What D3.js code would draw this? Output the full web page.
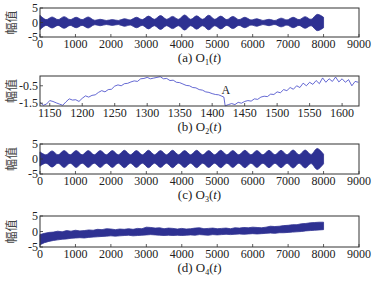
<!DOCTYPE html>
<html>
<head>
<meta charset="utf-8">
<script src="https://cdn.jsdelivr.net/npm/d3@7"></script>
<style>
  body { margin: 0; background: #fff; }
  svg { display: block; }
</style>
</head>
<body>
<svg id="chart" width="382" height="293"></svg>
<script>
// ---- data ----
const fullTicks = [0, 1000, 2000, 3000, 4000, 5000, 6000, 7000, 8000, 9000];
const ampTicks = [5, 0, -5];

// envelope sample positions for O1 and O3 (peaks / troughs of the beats)
const envX = [0,170,340,510,680,850,1020,1190,1360,1530,1700,1870,2040,2210,2380,2550,
  2720,2890,3060,3230,3400,3570,3740,3910,4080,4250,4420,4590,4760,4930,5100,5270,
  5440,5610,5780,5950,6120,6290,6460,6630,6800,6970,7140,7310,7480,7650,7820,8000];
const o1Amp = [2.5,1.0, 1.9,1.0, 2.0,1.0, 1.8,1.0, 1.9,0.8, 1.1,0.7, 1.0,0.7, 1.3,0.9,
  1.8,1.0, 2.2,1.1, 2.4,1.1, 2.1,1.1, 2.6,1.1, 2.3,1.1, 2.5,1.1, 2.2,1.0,
  2.1,1.0, 1.8,0.9, 1.3,0.7, 1.1,0.7, 1.5,0.9, 1.8,1.0, 2.0,1.1, 2.8,1.8];
const o3Amp = [2.4,1.4, 2.7,1.4, 2.8,1.4, 2.8,1.4, 2.8,1.4, 2.8,1.4, 2.8,1.4, 2.9,1.4,
  2.8,1.4, 2.9,1.4, 2.8,1.4, 2.9,1.4, 2.8,1.4, 2.9,1.4, 2.8,1.4, 2.9,1.4,
  2.8,1.4, 2.9,1.4, 2.8,1.4, 2.9,1.4, 2.9,1.4, 3.0,1.4, 3.0,1.5, 3.5,1.6];

// O2 zoomed segment
const o2X = [1135,1140,1145,1150,1155,1160,1165,1170,1175,1180,1185,1190,1195,1200,1205,1210,
  1215,1220,1225,1230,1235,1240,1245,1250,1255,1260,1265,1270,1275,1280,1285,1290,1295,1300,
  1305,1310,1315,1320,1325,1330,1335,1340,1345,1350,1355,1360,1365,1370,1375,1380,1385,1390,
  1395,1400,1405,1410,1415,1418,1420,1425,1430,1435,1440,1445,1450,1455,1460,1465,1470,1475,
  1480,1485,1490,1495,1500,1505,1510,1515,1520,1525,1530,1535,1540,1545,1550,1555,1560,1565,
  1570,1575,1580,1585,1590,1595,1600,1605,1610,1615,1620,1625];
const o2Y = [-1.45,-1.62,-1.55,-1.35,-1.4,-1.48,-1.55,-1.62,-1.42,-1.25,-1.32,-1.3,-1.4,-1.22,-1.08,-1.15,
  -1.05,-1.02,-0.88,-0.78,-0.85,-0.72,-0.7,-0.52,-0.45,-0.5,-0.38,-0.36,-0.28,-0.22,-0.25,-0.1,-0.08,-0.02,
  -0.1,-0.06,-0.02,0.02,-0.1,-0.08,-0.2,-0.18,-0.3,-0.32,-0.4,-0.48,-0.5,-0.6,-0.62,-0.72,-0.75,-0.85,
  -0.88,-0.95,-1.0,-1.02,-1.1,-1.15,-1.65,-1.58,-1.52,-1.58,-1.45,-1.5,-1.4,-1.35,-1.38,-1.25,-1.28,-1.15,
  -1.1,-1.12,-0.98,-1.0,-0.85,-0.9,-0.72,-0.78,-0.6,-0.7,-0.5,-0.6,-0.35,-0.5,-0.3,-0.42,-0.2,-0.38,
  -0.05,-0.3,-0.1,-0.25,0.0,-0.28,-0.1,-0.3,-0.15,-0.5,-0.25,-0.3];
const o2XTicks = [1150,1200,1250,1300,1350,1400,1450,1500,1550,1600];
const o2YTicks = [-0.5, -1.5];

// O4 trending band, upper and lower edges
const o4X = [0,125,250,375,500,625,750,875,1000,1125,1250,1375,1500,1625,1750,1875,2000,
  2125,2250,2375,2500,2625,2750,2875,3000,3125,3250,3375,3500,3625,3750,3875,4000,
  4125,4250,4375,4500,4625,4750,4875,5000,5125,5250,5375,5500,5625,5750,5875,6000,
  6125,6250,6375,6500,6625,6750,6875,7000,7125,7250,7375,7500,7625,7750,7875,8000];
const o4Upper = [-1.0,-0.6,-0.3,-0.2,0.1,-0.1,0.3,0.1,0.4,0.2,0.3,0.5,0.4,0.7,0.6,0.9,0.8,
  0.6,0.8,0.7,0.9,0.7,1.0,0.9,1.4,1.3,1.1,1.2,0.9,1.1,1.0,0.8,1.0,
  0.8,0.9,1.1,1.2,0.9,1.0,1.1,0.9,1.0,1.1,0.9,1.2,1.1,1.3,1.2,1.4,
  1.3,1.2,1.4,1.7,1.6,1.7,1.9,2.0,2.2,2.2,2.5,2.6,2.8,2.9,3.0,3.0];
const o4Lower = [-4.3,-3.6,-3.2,-2.9,-2.7,-2.5,-2.4,-2.2,-2.1,-2.0,-2.1,-1.9,-1.8,-1.7,-1.6,-1.5,-1.4,
  -1.5,-1.4,-1.3,-1.2,-1.4,-1.3,-1.2,-1.1,-1.0,-1.1,-1.2,-1.3,-1.2,-1.3,-1.2,-1.3,
  -1.2,-1.1,-1.2,-1.0,-1.1,-1.2,-1.0,-1.1,-1.0,-0.9,-1.0,-0.9,-0.8,-0.9,-0.8,-0.7,
  -0.8,-0.7,-0.6,-0.5,-0.6,-0.4,-0.4,-0.3,-0.2,-0.1,0.0,0.2,0.3,0.4,0.5,0.6];

const captions = [["(a) O", "1"], ["(b) O", "2"], ["(c) O", "3"], ["(d) O", "4"]];

// ---- layout ----
const left = 40, right = 359;
const panels = [
  { top: 8,   bottom: 37 },
  { top: 76,  bottom: 106 },
  { top: 144, bottom: 174 },
  { top: 216, bottom: 247 }
];
const bandColor = "#2e3192";
const lineColor = "#3d42c8";
const serif = "'Liberation Serif', 'Times New Roman', serif";

const svg = d3.select("#chart");

function drawFrame(p, x, y, xTicks, yTicks, cap) {
  const g = svg.append("g");
  // ticks inside the box, like the source plot
  g.selectAll(".xt").data(xTicks).enter().append("line")
    .attr("x1", d => x(d)).attr("x2", d => x(d))
    .attr("y1", p.bottom).attr("y2", p.bottom - 3)
    .attr("stroke", "#333").attr("stroke-width", 0.8);
  g.selectAll(".yt").data(yTicks).enter().append("line")
    .attr("x1", left).attr("x2", left + 3)
    .attr("y1", d => y(d)).attr("y2", d => y(d))
    .attr("stroke", "#333").attr("stroke-width", 0.8);
  g.append("rect")
    .attr("x", left).attr("y", p.top)
    .attr("width", right - left).attr("height", p.bottom - p.top)
    .attr("fill", "none").attr("stroke", "#333").attr("stroke-width", 1);

  g.selectAll(".xl").data(xTicks).enter().append("text")
    .attr("x", d => x(d)).attr("y", p.bottom + 11)
    .attr("text-anchor", "middle")
    .style("font", `12px ${serif}`).attr("fill", "#222")
    .text(d => d);
  g.selectAll(".yl").data(yTicks).enter().append("text")
    .attr("x", left - 2).attr("y", d => y(d)).attr("dy", "0.35em")
    .attr("text-anchor", "end")
    .style("font", `12px ${serif}`).attr("fill", "#222")
    .text(d => d);

  // y title
  const cy = (p.top + p.bottom) / 2;
  g.append("text")
    .attr("transform", `translate(16,${cy}) rotate(-90)`)
    .attr("text-anchor", "middle")
    .style("font", "12px 'Noto Sans CJK SC', sans-serif").attr("fill", "#444")
    .text("幅值");

  // caption with subscript and italic t
  const t = g.append("text")
    .attr("x", (left + right) / 2).attr("y", p.bottom + 25)
    .attr("text-anchor", "middle")
    .style("font", `13px ${serif}`).attr("fill", "#222");
  t.append("tspan").text(cap[0]);
  t.append("tspan").attr("dy", 3).style("font-size", "8px").text(cap[1]);
  t.append("tspan").attr("dy", -3).text("(");
  t.append("tspan").style("font-style", "italic").text("t");
  t.append("tspan").text(")");
}

// ---- panels a and c: beating bands ----
function drawBand(p, amp, cap) {
  const x = d3.scaleLinear().domain([0, 9000]).range([left, right]);
  const y = d3.scaleLinear().domain([-5, 5]).range([p.bottom, p.top]);
  const pts = envX.map((d, i) => ({ x: d, a: amp[i] }));
  const area = d3.area()
    .x(d => x(d.x)).y0(d => y(-d.a)).y1(d => y(d.a))
    .curve(d3.curveCardinal);
  svg.append("path").attr("d", area(pts))
    .attr("fill", bandColor).attr("stroke", bandColor).attr("stroke-width", 0.8);
  drawFrame(p, x, y, fullTicks, ampTicks, cap);
}

drawBand(panels[0], o1Amp, captions[0]);
drawBand(panels[2], o3Amp, captions[2]);

// ---- panel b: zoomed line ----
{
  const p = panels[1];
  const x = d3.scaleLinear().domain([1135, 1626]).range([left, right]);
  const y = d3.scaleLinear().domain([-1.66, 0.06]).range([p.bottom, p.top]);
  const line = d3.line().x((d, i) => x(o2X[i])).y(d => y(d));
  svg.append("path").attr("d", line(o2Y))
    .attr("fill", "none").attr("stroke", lineColor).attr("stroke-width", 0.8);
  drawFrame(p, x, y, o2XTicks, o2YTicks, captions[1]);
  svg.append("text")
    .attr("x", x(1421)).attr("y", y(-0.95))
    .attr("text-anchor", "middle")
    .style("font", `12px ${serif}`).attr("fill", "#222")
    .text("A");
}

// ---- panel d: trending band ----
{
  const p = panels[3];
  const x = d3.scaleLinear().domain([0, 9000]).range([left, right]);
  const y = d3.scaleLinear().domain([-5, 5]).range([p.bottom, p.top]);
  const area = d3.area()
    .x((d, i) => x(o4X[i])).y0((d, i) => y(o4Lower[i])).y1(d => y(d));
  svg.append("path").attr("d", area(o4Upper))
    .attr("fill", bandColor).attr("stroke", bandColor).attr("stroke-width", 0.8);
  drawFrame(p, x, y, fullTicks, ampTicks, captions[3]);
}
</script>
</body>
</html>
